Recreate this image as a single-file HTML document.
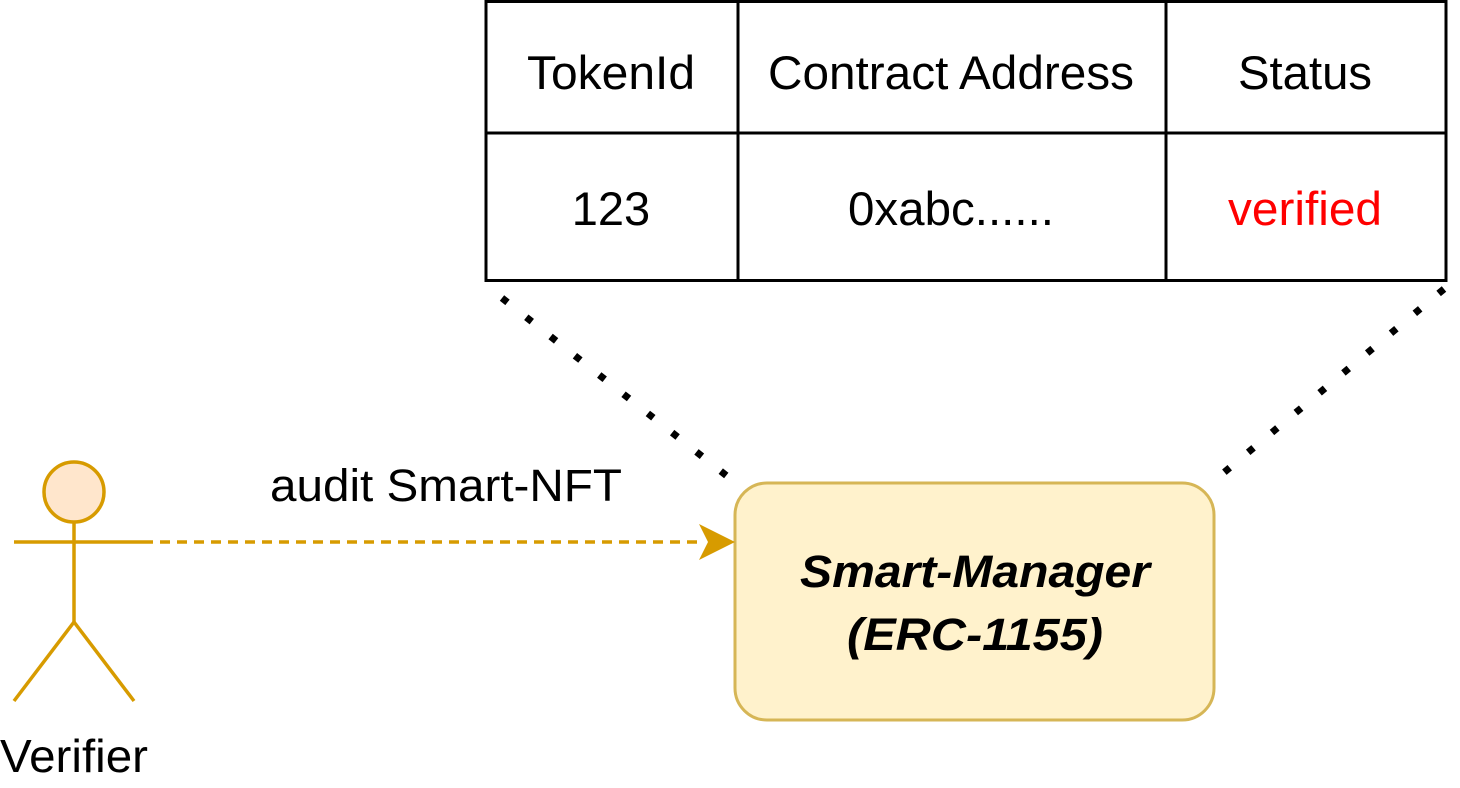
<!DOCTYPE html>
<html><head><meta charset="utf-8"><style>
html,body{margin:0;padding:0;background:#fff;width:1460px;height:788px;overflow:hidden}
svg{display:block}
text{font-family:"Liberation Sans",Arial,sans-serif}
</style></head><body>
<svg width="1460" height="788" viewBox="0 0 1460 788">
<g stroke="#000" stroke-width="3" fill="#fff">
<rect x="486" y="1.5" width="960" height="279"/>
<line x1="486" y1="133" x2="1446" y2="133"/>
<line x1="738" y1="1.5" x2="738" y2="280"/>
<line x1="1166" y1="1.5" x2="1166" y2="280"/>
</g>
<g font-size="47" text-anchor="middle" fill="#000">
<text x="611" y="89" textLength="168" lengthAdjust="spacingAndGlyphs">TokenId</text>
<text x="951" y="89" textLength="366" lengthAdjust="spacingAndGlyphs">Contract Address</text>
<text x="1305" y="89" textLength="134" lengthAdjust="spacingAndGlyphs">Status</text>
<text x="611" y="225">123</text>
<text x="951" y="225" textLength="206" lengthAdjust="spacingAndGlyphs">0xabc......</text>
<text x="1305" y="225" fill="#ff0000" textLength="154" lengthAdjust="spacingAndGlyphs">verified</text>
</g>
<g stroke="#000" stroke-width="7" stroke-dasharray="7 24" fill="none">
<line x1="502" y1="298" x2="737" y2="484"/>
<line x1="1444" y1="289" x2="1215" y2="480"/>
</g>
<rect x="735" y="483" width="479" height="237" rx="32" fill="#fff2cc" stroke="#d6b656" stroke-width="3"/>
<g font-size="45" font-weight="bold" font-style="italic" text-anchor="middle" fill="#000">
<text x="975" y="587" textLength="350" lengthAdjust="spacingAndGlyphs">Smart-Manager</text>
<text x="975" y="650" textLength="256" lengthAdjust="spacingAndGlyphs">(ERC-1155)</text>
</g>
<g stroke="#d79b00" stroke-width="3.5" fill="none">
<ellipse cx="74" cy="492" rx="30" ry="30" fill="#ffe6cc"/>
<line x1="74" y1="522" x2="74" y2="622"/>
<line x1="14" y1="542" x2="143" y2="542"/>
<line x1="74" y1="622" x2="14" y2="701"/>
<line x1="74" y1="622" x2="134" y2="701"/>
</g>
<text x="74" y="772" font-size="46" text-anchor="middle" textLength="148" lengthAdjust="spacingAndGlyphs">Verifier</text>
<line x1="143" y1="542" x2="702" y2="542" stroke="#d79b00" stroke-width="3.5" stroke-dasharray="10 7"/>
<polygon points="735,542 699,524 708,542 699,560" fill="#d79b00"/>
<text x="446" y="501" font-size="45" text-anchor="middle" textLength="352" lengthAdjust="spacingAndGlyphs">audit Smart-NFT</text>
</svg>
</body></html>
